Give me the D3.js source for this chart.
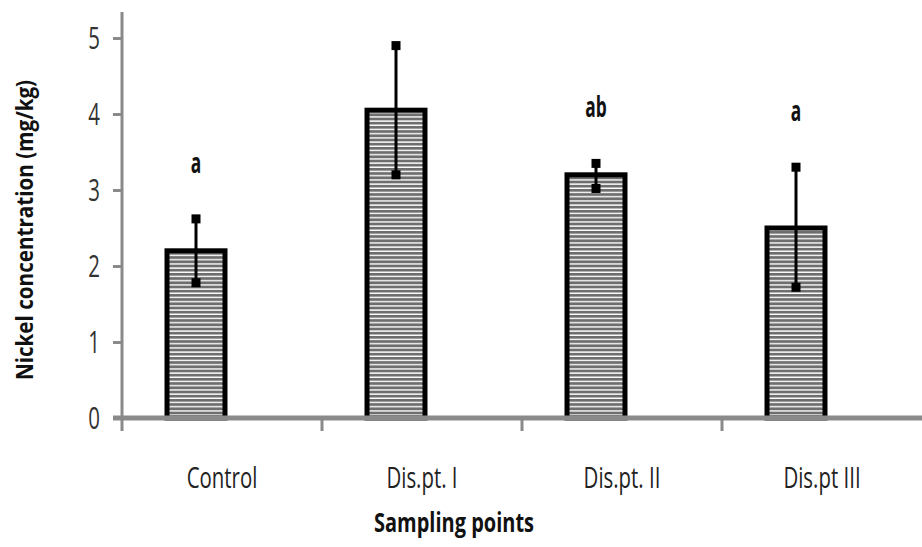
<!DOCTYPE html>
<html>
<head>
<meta charset="utf-8">
<script src="https://cdn.jsdelivr.net/npm/d3@7"></script>
<style>
  body { margin: 0; background: #fff; }
  svg { display: block; }
  text { font-family: "Open Sans", sans-serif; fill: #111; }
</style>
</head>
<body>
<div id="chart"></div>
<script>
// data
const categories = ["Control", "Dis.pt. I", "Dis.pt. II", "Dis.pt III"];
const means      = [2.2, 4.05, 3.2, 2.5];
const errUpper   = [2.62, 4.9, 3.35, 3.3];
const errLower   = [1.78, 3.2, 3.02, 1.72];
const letters    = ["a", "", "ab", "a"];
const yTicks     = [0, 1, 2, 3, 4, 5];

const W = 922, H = 547;
const LEFT = 122, RIGHT = 922, BASE = 418, TOP = 38;

const svg = d3.select("#chart").append("svg")
    .attr("width", W)
    .attr("height", H);

const defs = svg.append("defs");
const stripes = defs.append("pattern")
    .attr("id", "stripes")
    .attr("patternUnits", "userSpaceOnUse")
    .attr("width", 8)
    .attr("height", 4.2);
stripes.append("rect").attr("width", 8).attr("height", 4.2).attr("fill", "#fff");
stripes.append("rect").attr("width", 8).attr("height", 2.8).attr("fill", "#6e6e6e");

const x = d3.scaleBand().domain(categories).range([LEFT, RIGHT]);
const y = d3.scaleLinear().domain([0, 5]).range([BASE, TOP]);

const BAR_W = 58;
const BAR_SHIFT = -26;   // bars sit left of the band centre in the original
function barCenter(c) { return x(c) + x.bandwidth() / 2 + BAR_SHIFT; }

// condensed-looking text: draw, then squeeze horizontally
function squeezed(g, px, py, str, sx, rot) {
    return g.append("text")
        .attr("transform", "translate(" + px + "," + py + ")" + (rot ? " rotate(" + rot + ")" : "") + " scale(" + sx + ",1)")
        .text(str);
}

// y axis
const yAxis = svg.append("g")
    .attr("transform", "translate(" + LEFT + ",0)")
    .call(d3.axisLeft(y).tickValues(yTicks).tickSize(9).tickFormat(""));
yAxis.select(".domain").remove();
yAxis.selectAll(".tick line").attr("stroke", "#8a8a8a").attr("stroke-width", 3);
svg.append("line")
    .attr("x1", LEFT).attr("x2", LEFT)
    .attr("y1", 12).attr("y2", BASE)
    .attr("stroke", "#8a8a8a").attr("stroke-width", 3);

yTicks.forEach(function(t) {
    squeezed(svg, 100, y(t) + 11, String(t), 0.66)
        .attr("text-anchor", "end")
        .style("font-size", "31px")
        .style("fill", "#333");
});

// bars
svg.selectAll("rect.bar")
    .data(categories)
    .join("rect")
    .attr("class", "bar")
    .attr("x", d => barCenter(d) - BAR_W / 2)
    .attr("y", (d, i) => y(means[i]))
    .attr("width", BAR_W)
    .attr("height", (d, i) => BASE - y(means[i]))
    .attr("fill", "url(#stripes)")
    .attr("stroke", "#000")
    .attr("stroke-width", 5);

// x axis line and boundary ticks
svg.append("line")
    .attr("x1", LEFT - 9).attr("x2", RIGHT)
    .attr("y1", BASE).attr("y2", BASE)
    .attr("stroke", "#8a8a8a").attr("stroke-width", 5);
categories.forEach(function(c) {
    svg.append("line")
        .attr("x1", x(c)).attr("x2", x(c))
        .attr("y1", BASE).attr("y2", BASE + 13)
        .attr("stroke", "#8a8a8a").attr("stroke-width", 3);
});

// error bars
const err = svg.append("g").attr("class", "errors");
categories.forEach(function(c, i) {
    const cx = barCenter(c);
    err.append("line")
        .attr("x1", cx).attr("x2", cx)
        .attr("y1", y(errUpper[i])).attr("y2", y(errLower[i]))
        .attr("stroke", "#000").attr("stroke-width", 3);
    [errUpper[i], errLower[i]].forEach(function(v) {
        err.append("rect")
            .attr("x", cx - 4.5).attr("y", y(v) - 4.5)
            .attr("width", 9).attr("height", 9)
            .attr("fill", "#000");
    });
    if (letters[i]) {
        squeezed(svg, cx, y(errUpper[i]) - 46, letters[i], 0.62)
            .attr("text-anchor", "middle")
            .style("font-size", "28px")
            .style("font-weight", "bold");
    }
});

// category labels
categories.forEach(function(c) {
    squeezed(svg, x(c) + x.bandwidth() / 2, 488, c, 0.68)
        .attr("text-anchor", "middle")
        .style("font-size", "30px")
        .style("fill", "#222");
});

// axis titles
squeezed(svg, 454, 532, "Sampling points", 0.74)
    .attr("text-anchor", "middle")
    .style("font-size", "27px")
    .style("font-weight", "bold");

squeezed(svg, 33, 230, "Nickel concentration (mg/kg)", 0.86, -90)
    .attr("text-anchor", "middle")
    .style("font-size", "24px")
    .style("font-weight", "bold");
</script>
</body>
</html>
